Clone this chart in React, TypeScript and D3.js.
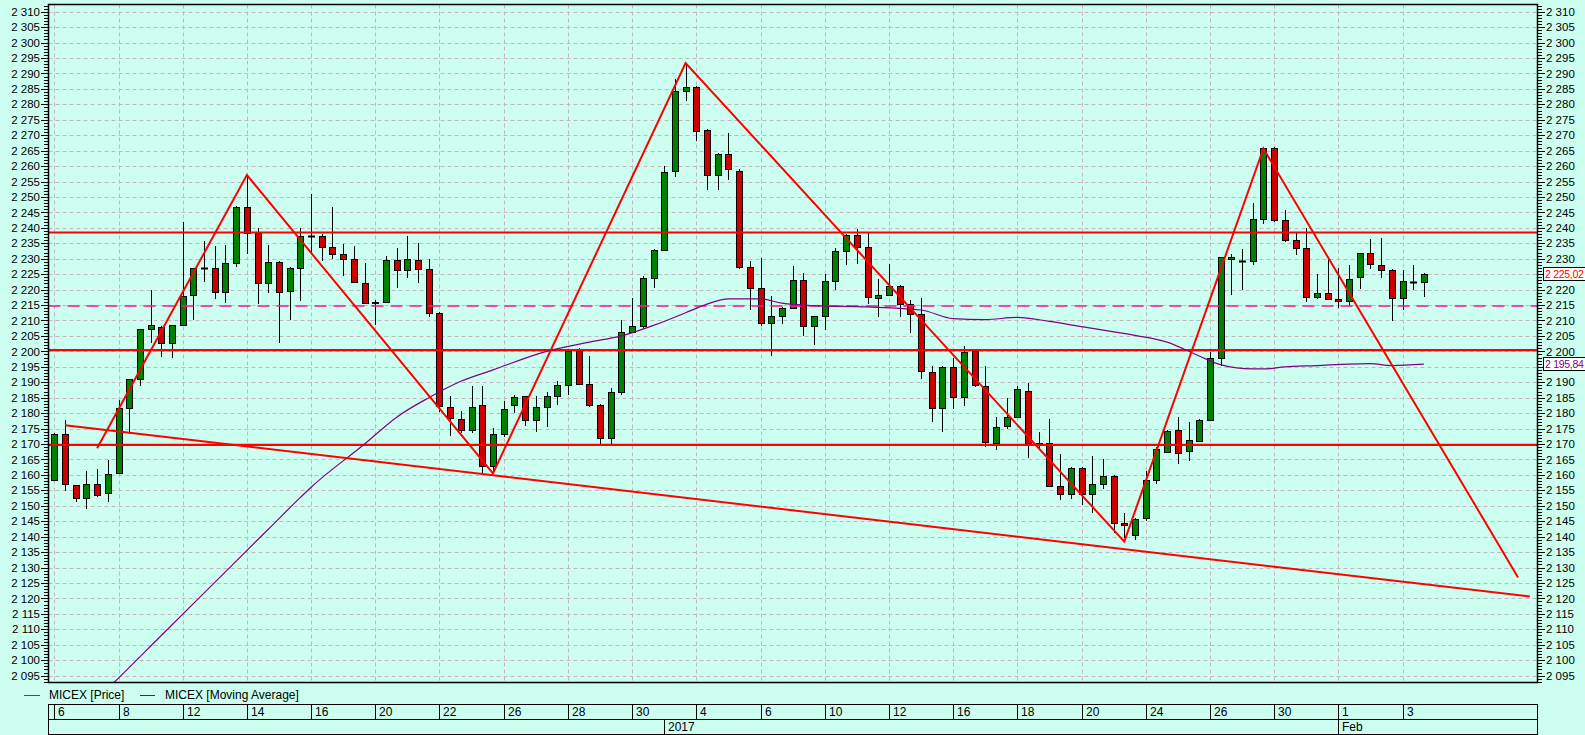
import React, { useEffect } from 'react';
import * as d3 from 'd3';

// ---- DATA ----
const opens = [
  2158.2, 2173.4, 2156.6, 2152.4, 2157.2, 2154.0, 2160.5, 2181.5, 2190.9, 2207.1,
  2207.8, 2202.8, 2208.4, 2218.1, 2226.9, 2226.9, 2219.3, 2228.5, 2246.9, 2238.4,
  2222.2, 2229.1, 2219.7, 2227.1, 2237.3, 2237.3, 2233.7, 2231.5, 2229.8, 2222.1,
  2215.6, 2216.1, 2229.6, 2226.4, 2229.6, 2226.6, 2212.4, 2182.1, 2178.0, 2174.6,
  2182.6, 2162.9, 2173.2, 2182.6, 2185.4, 2177.8, 2181.9, 2185.5, 2189.1, 2200.1,
  2189.4, 2182.7, 2172.0, 2187.0, 2206.2, 2208.1, 2223.8, 2232.8, 2258.3, 2284.2,
  2285.6, 2271.7, 2257.0, 2263.9, 2258.4, 2227.3, 2220.4, 2209.2, 2211.5, 2214.2,
  2223.1, 2208.1, 2211.5, 2222.9, 2232.6, 2237.7, 2233.7, 2217.4, 2218.4, 2221.3,
  2215.2, 2212.0, 2193.4, 2181.5, 2195.1, 2185.1, 2200.2, 2188.9, 2170.2, 2175.9,
  2178.6, 2187.3, 2170.2, 2170.2, 2156.4, 2153.8, 2162.1, 2153.8, 2157.0, 2159.7,
  2144.5, 2140.5, 2146.0, 2158.3, 2167.4, 2174.5, 2167.8, 2170.9, 2177.9, 2197.7,
  2229.9, 2229.2, 2229.3, 2243.0, 2266.0, 2242.5, 2236.2, 2233.5, 2217.6, 2218.9,
  2217.1, 2216.4, 2224.0, 2231.7, 2228.1, 2226.5, 2217.4, 2222.5, 2222.5,
];
const highs = [
  2173.5, 2177.7, 2156.8, 2161.2, 2162.0, 2164.7, 2184.2, 2191.2, 2207.3, 2219.8,
  2208.2, 2208.6, 2241.8, 2227.1, 2235.7, 2234.1, 2234.4, 2247.1, 2257.1, 2239.8,
  2234.3, 2229.3, 2227.3, 2239.8, 2250.9, 2238.0, 2246.7, 2234.8, 2234.2, 2228.6,
  2216.6, 2231.0, 2233.4, 2237.4, 2235.0, 2229.8, 2212.6, 2185.4, 2180.7, 2188.8,
  2188.8, 2175.3, 2184.0, 2185.9, 2185.6, 2185.7, 2187.0, 2190.5, 2200.3, 2201.0,
  2198.5, 2183.0, 2188.0, 2210.3, 2217.3, 2224.5, 2233.0, 2260.1, 2288.2, 2293.4,
  2286.0, 2272.0, 2264.1, 2270.7, 2259.1, 2229.4, 2230.2, 2217.8, 2214.5, 2227.8,
  2225.5, 2211.6, 2225.2, 2233.6, 2238.0, 2239.6, 2238.2, 2223.4, 2228.3, 2221.5,
  2216.6, 2217.2, 2195.2, 2195.3, 2197.7, 2201.8, 2200.5, 2195.2, 2178.6, 2184.8,
  2188.8, 2189.8, 2173.9, 2178.2, 2166.8, 2162.4, 2162.5, 2166.0, 2165.0, 2160.0,
  2147.5, 2146.0, 2161.3, 2169.0, 2174.5, 2178.8, 2177.1, 2178.1, 2199.7, 2230.6,
  2231.5, 2233.1, 2248.1, 2266.2, 2266.2, 2245.9, 2238.2, 2240.1, 2224.9, 2230.6,
  2227.1, 2228.1, 2232.0, 2236.3, 2236.6, 2226.7, 2226.5, 2227.9, 2225.4,
];
const lows = [
  2158.0, 2154.8, 2151.3, 2149.0, 2153.0, 2151.3, 2160.3, 2173.4, 2188.9, 2202.8,
  2198.3, 2197.7, 2208.2, 2210.1, 2222.5, 2217.1, 2215.8, 2227.4, 2231.5, 2215.3,
  2218.9, 2202.6, 2210.1, 2216.4, 2231.7, 2229.4, 2230.0, 2224.4, 2222.2, 2215.4,
  2208.6, 2215.8, 2220.5, 2223.7, 2222.3, 2211.1, 2180.5, 2172.7, 2173.5, 2173.7,
  2160.5, 2161.1, 2172.4, 2180.0, 2175.9, 2174.0, 2175.6, 2182.7, 2185.9, 2189.1,
  2182.0, 2170.0, 2170.0, 2186.0, 2206.0, 2207.2, 2220.4, 2232.5, 2256.4, 2281.0,
  2268.0, 2252.1, 2252.1, 2255.6, 2226.8, 2213.5, 2208.1, 2198.6, 2208.9, 2214.0,
  2204.9, 2202.0, 2206.9, 2219.8, 2228.1, 2228.3, 2215.3, 2211.2, 2218.0, 2211.2,
  2205.8, 2191.2, 2177.2, 2173.8, 2181.2, 2182.4, 2188.3, 2169.1, 2168.0, 2174.8,
  2178.4, 2165.6, 2168.0, 2156.0, 2151.8, 2152.1, 2150.2, 2147.5, 2155.3, 2141.3,
  2139.4, 2139.0, 2145.0, 2157.0, 2167.1, 2163.6, 2164.5, 2170.5, 2177.6, 2195.2,
  2218.2, 2219.8, 2227.9, 2241.2, 2241.9, 2235.5, 2231.3, 2216.0, 2217.0, 2216.9,
  2214.2, 2214.7, 2220.2, 2226.8, 2223.8, 2209.7, 2213.3, 2219.8, 2217.6,
];
const closes = [
  2173.1, 2156.9, 2152.4, 2157.2, 2153.6, 2160.4, 2181.5, 2190.9, 2207.1, 2208.4,
  2202.6, 2208.4, 2217.9, 2226.9, 2226.9, 2219.3, 2228.5, 2246.9, 2238.4, 2222.2,
  2229.1, 2219.3, 2227.1, 2237.2, 2237.3, 2233.7, 2231.5, 2229.8, 2222.4, 2215.6,
  2216.1, 2229.6, 2226.4, 2229.8, 2226.6, 2212.4, 2182.4, 2178.4, 2174.6, 2182.1,
  2162.9, 2173.2, 2181.3, 2185.2, 2177.8, 2181.9, 2185.5, 2189.1, 2200.1, 2189.4,
  2182.7, 2172.0, 2187.0, 2206.2, 2208.1, 2223.8, 2232.8, 2258.1, 2284.4, 2285.6,
  2271.4, 2257.0, 2263.9, 2259.1, 2227.2, 2220.4, 2209.2, 2211.5, 2214.2, 2223.1,
  2208.1, 2211.5, 2222.9, 2232.6, 2237.7, 2233.8, 2217.5, 2218.4, 2221.1, 2215.2,
  2212.0, 2193.7, 2181.5, 2195.1, 2185.1, 2199.9, 2189.1, 2170.5, 2175.6, 2178.6,
  2187.7, 2170.2, 2170.0, 2156.4, 2153.8, 2162.1, 2153.8, 2157.0, 2159.7, 2144.5,
  2143.8, 2145.6, 2158.5, 2168.3, 2174.1, 2167.1, 2171.2, 2177.7, 2197.7, 2230.4,
  2230.5, 2229.2, 2243.0, 2266.0, 2242.7, 2236.2, 2233.5, 2217.6, 2218.9, 2217.1,
  2216.4, 2223.5, 2231.7, 2228.2, 2226.5, 2217.4, 2222.7, 2222.5, 2225.02,
];

const dateLabels = ['6', '8', '12', '14', '16', '20', '22', '26', '28', '30', '4', '6', '10', '12', '16', '18', '20', '24', '26', '30', '1', '3'];
const labelEvery = 6;
const monthLabels = ['2017', 'Feb'];
const monthIdx = [57, 120];

const maIdx = [4, 6, 10, 15, 20, 23, 24, 29, 32, 35, 38, 41, 46, 50, 53, 56, 59, 61, 63, 66, 68, 71, 76, 81, 84, 87, 90, 93, 96, 101, 104, 107, 109, 112, 113, 115, 118, 121, 123, 125, 128];
const maVals = [2087.5, 2094.2, 2108.0, 2125.2, 2142.4, 2152.7, 2156.0, 2170.0, 2178.7, 2185.0, 2190.3, 2194.0, 2200.0, 2203.0, 2205.0, 2208.4, 2212.5, 2215.3, 2217.0, 2217.0, 2215.6, 2214.8, 2214.4, 2213.4, 2210.6, 2210.3, 2211.0, 2209.7, 2208.0, 2205.2, 2203.0, 2198.5, 2195.7, 2194.3, 2194.3, 2195.0, 2195.4, 2195.9, 2196.0, 2195.4, 2195.84];

const zigIdx = [4, 18, 41, 59, 100, 113, 136.8];
const zigVals = [2168.6, 2257.1, 2160.5, 2293.4, 2138.4, 2265.7, 2126.8];
const supIdx = [1, 137.9];
const supVals = [2176.1, 2120.6];
const levels = [2238.5, 2200.4, 2169.7];
const pivotLevel = 2214.7;
const lastPrice = 2225.02;
const lastMA = 2195.84;

const yMin = 2095, yMax = 2310;

const FONT = '"Liberation Sans", Arial, sans-serif';

function fmt(v: number, dec = 0) {
  const s = v.toFixed(dec);
  const [ip, fp] = s.split('.');
  const th = ip.slice(0, ip.length - 3);
  const rest = ip.slice(ip.length - 3);
  return th + ' ' + rest + (fp ? ',' + fp : '');
}

export default function App() {
  useEffect(() => {
    document.body.style.margin = '0';
    document.body.style.background = '#CCFFF0';
  }, []);

  const W = 1585, H = 735;
  const L = 48.5, R = 1537.5, T = 4.5, B = 682.5;
  const y = d3.scaleLinear().domain([yMax, yMin]).range([11.7, 675.6]);
  const x = d3.scaleLinear().domain([0, 128]).range([54.3, 54.3 + 128 * 10.7]);

  const bg = '#CCFFF0';
  const gridC = '#C3B6BE';
  const red = '#FF0000';

  const majorTicks = d3.range(yMin, yMax + 1, 5);
  const minorTicks = d3.range(yMin - 2, yMax + 3, 1);

  const labelIdx = dateLabels.map((_, k) => k * labelEvery);

  const lineGen = d3.line<[number, number]>().x(d => x(d[0])).y(d => y(d[1]));
  const maLine = d3.line<[number, number]>().x(d => x(d[0])).y(d => y(d[1])).curve(d3.curveMonotoneX);

  const zig = zigIdx.map((v, k) => [v, zigVals[k]] as [number, number]);
  const sup = supIdx.map((v, k) => [v, supVals[k]] as [number, number]);
  const ma = maIdx.map((v, k) => [v, maVals[k]] as [number, number]);

  const rx = (v: number) => Math.round(v);
  const ry = (v: number) => Math.round(v) + 0.5;

  const boxVals = [lastPrice, lastMA];
  const hiddenRight = (v: number) => boxVals.some(b => Math.abs(y(b) - y(v)) < 11);

  return (
    <svg width={W} height={H} style={{ display: 'block', position: 'absolute', left: 0, top: 0 }} fontFamily={FONT}>
      <defs>
        <clipPath id="plotClip">
          <rect x={L} y={T} width={R - L} height={B - T} />
        </clipPath>
      </defs>
      <rect x={0} y={0} width={W} height={H} fill={bg} />

      {/* grid */}
      <g stroke={gridC} strokeWidth={1} strokeDasharray="4,3">
        {majorTicks.map(v => (
          <line key={'h' + v} x1={L} x2={R} y1={ry(y(v))} y2={ry(y(v))} />
        ))}
        {labelIdx.map(i => (
          <line key={'v' + i} x1={rx(x(i)) + 0.5} x2={rx(x(i)) + 0.5} y1={T} y2={B} />
        ))}
      </g>

      <g clipPath="url(#plotClip)">
        {/* candles */}
        {opens.map((o, i) => {
          const c = closes[i];
          const cx = rx(x(i));
          const yh = y(highs[i]);
          const yl = y(lows[i]);
          const yo = y(o);
          const yc = y(c);
          const top = Math.round(Math.min(yo, yc));
          const bot = Math.round(Math.max(yo, yc));
          const doji = Math.abs(o - c) < 0.05;
          const fill = c > o ? '#008000' : '#CC0000';
          return (
            <g key={'c' + i}>
              <line x1={cx + 0.5} x2={cx + 0.5} y1={Math.round(yh)} y2={Math.round(yl)} stroke="#000" strokeWidth={1} />
              {doji ? (
                <line x1={cx - 3} x2={cx + 4} y1={top + 0.5} y2={top + 0.5} stroke="#000" strokeWidth={2} />
              ) : (
                <rect x={cx - 2.5} y={top + 0.5} width={6} height={Math.max(bot - top, 1)} fill={fill} stroke="#000" strokeWidth={1} />
              )}
            </g>
          );
        })}

        {/* level lines */}
        {levels.map(v => (
          <line key={'l' + v} x1={L} x2={R} y1={y(v)} y2={y(v)} stroke={red} strokeWidth={2.2} />
        ))}
        <line x1={L} x2={R} y1={y(pivotLevel)} y2={y(pivotLevel)} stroke="#FF1493" strokeWidth={1.4} strokeDasharray="12,7" />

        {/* moving average */}
        <path d={maLine(ma) || ''} fill="none" stroke="#800080" strokeWidth={1.2} />

        {/* trend lines */}
        <path d={lineGen(sup) || ''} fill="none" stroke={red} strokeWidth={2} />
        <path d={lineGen(zig) || ''} fill="none" stroke={red} strokeWidth={2} strokeLinejoin="miter" />
      </g>

      {/* frame */}
      <rect x={L} y={T} width={R - L} height={B - T} fill="none" stroke="#000" strokeWidth={1.5} />

      {/* axes ticks */}
      <g stroke="#000" strokeWidth={1}>
        {minorTicks.filter(v => y(v) > T && y(v) < B).map(v => {
          const major = v % 5 === 0;
          return (
            <g key={'t' + v}>
              <line x1={major ? 41 : 44} x2={L} y1={ry(y(v))} y2={ry(y(v))} />
              <line x1={R} x2={major ? 1545 : 1542} y1={ry(y(v))} y2={ry(y(v))} />
            </g>
          );
        })}
      </g>
      <g fontSize={11.5} fill="#000">
        {majorTicks.map(v => (
          <g key={'lab' + v}>
            <text x={40} y={y(v)} dy="0.36em" textAnchor="end">{fmt(v)}</text>
            {!hiddenRight(v) && (
              <text x={1546} y={y(v)} dy="0.36em" textAnchor="start">{fmt(v)}</text>
            )}
          </g>
        ))}
      </g>

      {/* value boxes */}
      <g fontSize={10.5}>
        <rect x={1543.5} y={Math.round(y(lastPrice)) - 6.5} width={50} height={13} fill="#FFFFFF" stroke="#000" strokeWidth={1} />
        <text x={1545} y={y(lastPrice)} dy="0.36em" fill="#FF0000" letterSpacing={-0.3}>{fmt(lastPrice, 2)}</text>
        <rect x={1543.5} y={Math.round(y(lastMA)) - 6.5} width={50} height={13} fill="#FFFFFF" stroke="#000" strokeWidth={1} />
        <text x={1545} y={y(lastMA)} dy="0.36em" fill="#800080" letterSpacing={-0.3}>{fmt(lastMA, 2)}</text>
      </g>

      {/* legend */}
      <g fontSize={12} fill="#000">
        <line x1={24} x2={40} y1={695.5} y2={695.5} stroke="#FF0000" strokeWidth={1} />
        <text x={49} y={695} dy="0.36em">MICEX [Price]</text>
        <line x1={140} x2={155} y1={695.5} y2={695.5} stroke="#800080" strokeWidth={1} />
        <text x={165} y={695} dy="0.36em">MICEX [Moving Average]</text>
      </g>

      {/* date axis */}
      <g stroke="#000" strokeWidth={1} fill="none">
        <line x1={L} x2={R} y1={704.5} y2={704.5} />
        <line x1={L} x2={R} y1={719.5} y2={719.5} />
        <line x1={L} x2={R} y1={734.5} y2={734.5} />
        <line x1={L} x2={L} y1={704} y2={735} />
        <line x1={R} x2={R} y1={704} y2={735} />
        {labelIdx.map(i => (
          <line key={'ds' + i} x1={rx(x(i)) + 0.5} x2={rx(x(i)) + 0.5} y1={704} y2={719} />
        ))}
        {monthIdx.map(i => (
          <line key={'ms' + i} x1={rx(x(i)) + 0.5} x2={rx(x(i)) + 0.5} y1={719} y2={734} />
        ))}
      </g>
      <g fontSize={12} fill="#000">
        {dateLabels.map((d, k) => (
          <text key={'dl' + k} x={rx(x(labelIdx[k])) + 4} y={712} dy="0.36em">{d}</text>
        ))}
        {monthLabels.map((m, k) => (
          <text key={'ml' + k} x={rx(x(monthIdx[k])) + 4} y={727} dy="0.36em">{m}</text>
        ))}
      </g>
    </svg>
  );
}
